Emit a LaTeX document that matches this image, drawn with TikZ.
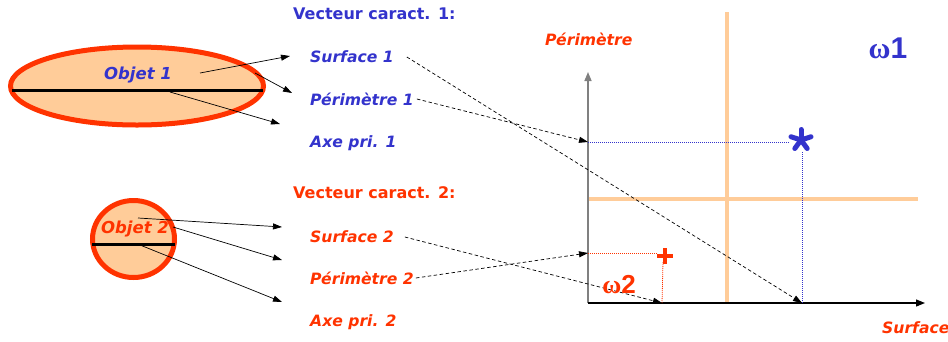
\documentclass[tikz,border=0pt]{standalone}
\usepackage{fontspec}
\setmainfont{DejaVu Sans}
\newfontfamily\omegafont{Liberation Sans}
\newfontfamily\omegaserif{Liberation Serif}
\usetikzlibrary{arrows.meta,shapes.geometric}
\definecolor{cblue}{HTML}{3333CC}
\definecolor{cred}{HTML}{FF3300}
\definecolor{cpeach}{HTML}{FFCC99}
\begin{document}
\begin{tikzpicture}[x=1pt,y=-1pt,
  lbl/.style={font=\fontsize{15.6}{18}\selectfont\bfseries\itshape, inner sep=0pt, anchor=west},
  head/.style={font=\fontsize{16}{18}\selectfont\bfseries, inner sep=0pt, anchor=west},
  obj/.style={ellipse, draw=cred, fill=cpeach, line width=5pt, inner sep=0pt},
  objtxt/.style={font=\fontsize{16.5}{18}\selectfont\bfseries\itshape, inner sep=0pt},
  bar/.style={line width=3pt, black},
  link/.style={black, line width=0.7pt, -{Triangle[length=9pt,width=6pt]}},
  dlink/.style={black, line width=0.7pt, dash pattern=on 3.5pt off 2.5pt, -{Triangle[length=9pt,width=6pt]}},
  sep/.style={cpeach, line width=4pt},
  bdot/.style={cblue, line width=0.8pt, dash pattern=on 1pt off 1pt},
  rdot/.style={cred, line width=0.8pt, dash pattern=on 1pt off 1pt},
  omg/.style={inner sep=0pt}
]
\useasboundingbox (0,0) rectangle (948,341);

% objects
\node[obj, minimum width=253pt, minimum height=78pt] (obj1) at (137,86) {};
\draw[bar] (12,90) -- (263,90);
\node[objtxt, text=cblue] (t1) at (138,75) {Objet 1};

\node[obj, minimum width=82pt, minimum height=77pt] (obj2) at (133.5,239) {};
\draw[bar] (92,244) -- (175,244);
\node[objtxt, text=cred] (t2) at (135,229) {Objet 2};

% feature vectors
\node[head, text=cblue] (v1) at (293,14) {Vecteur caract. 1:};
\node[lbl, text=cblue] (s1) at (310,57) {Surface 1};
\node[lbl, text=cblue] (p1) at (310,99) {Périmètre 1};
\node[lbl, text=cblue] (a1) at (310,143) {Axe pri. 1};

\node[head, text=cred] (v2) at (293,193) {Vecteur caract. 2:};
\node[lbl, text=cred] (s2) at (310,237) {Surface 2};
\node[lbl, text=cred] (p2) at (310,278) {Périmètre 2};
\node[lbl, text=cred] (a2) at (310,322) {Axe pri. 2};

% arrows from objects
\coordinate (o1a) at (200,73);
\coordinate (o1b) at (255,73);
\coordinate (o1c) at (170,92);
\coordinate (e1a) at (290,56);
\coordinate (e1b) at (292,93);
\coordinate (e1c) at (280,124);
\draw[link] (o1a) -- (e1a);
\draw[link] (o1b) -- (e1b);
\draw[link] (o1c) -- (e1c);

\coordinate (o2a) at (138,218);
\coordinate (o2b) at (173,227);
\coordinate (o2c) at (140,245);
\coordinate (e2a) at (282,227);
\coordinate (e2b) at (282,260);
\coordinate (e2c) at (282,302);
\draw[link] (o2a) -- (e2a);
\draw[link] (o2b) -- (e2b);
\draw[link] (o2c) -- (e2c);

% decision lines
\draw[sep] (727,12) -- (727,303);
\draw[sep] (589,199) -- (918,199);

% axes
\coordinate (O) at (588,303);
\coordinate (ytop) at (588,72);
\coordinate (xend) at (925,303);
\draw[gray, line width=1.5pt, -{Triangle[length=9pt,width=7pt]}] (O) -- (ytop);
\draw[black, line width=1.2pt, -{Triangle[length=9pt,width=7pt]}] (O) -- (xend);
\node[lbl, text=cred] (ylab) at (545,39) {Périmètre};
\node[lbl, text=cred] (xlab) at (882,328) {Surface};

% class 1 point
\coordinate (p1y) at (588,142);
\coordinate (s1x) at (802,303);
\coordinate (st) at (801,140);
\draw[bdot] (p1y) -- (789,142);
\draw[bdot] (802,152) -- (s1x);
\foreach \a in {270,342,54,126,198}
  \draw[cblue, line width=5pt, line cap=round] (st) -- ++(\a:10.5);

% class 2 point
\coordinate (p2y) at (588,253);
\coordinate (s2x) at (662,303);
\coordinate (pl) at (665,256);
\draw[rdot] (p2y) -- (657,253);
\draw[rdot] (663,262) -- (s2x);
\draw[cred, line width=3.5pt] (657,256) -- (673,256) (665,248) -- (665,264);

% dashed projections
\draw[dlink] (s1.east) ++(13,0) -- (s1x);
\draw[dlink] (p1.east) ++(3,0) -- (p1y);
\draw[dlink] (s2.east) ++(11,0) -- (s2x);
\draw[dlink] (p2.east) ++(2,0) -- (p2y);

% class labels
\node[omg, text=cblue, font=\bfseries\fontsize{30}{32}\selectfont] (w1) at (888,48) {{\omegaserif ω}{\omegafont 1}};
\node[omg, text=cred, font=\bfseries\fontsize{26}{28}\selectfont] (w2) at (619,285) {{\omegaserif ω}{\omegafont 2}};
\end{tikzpicture}
\end{document}
